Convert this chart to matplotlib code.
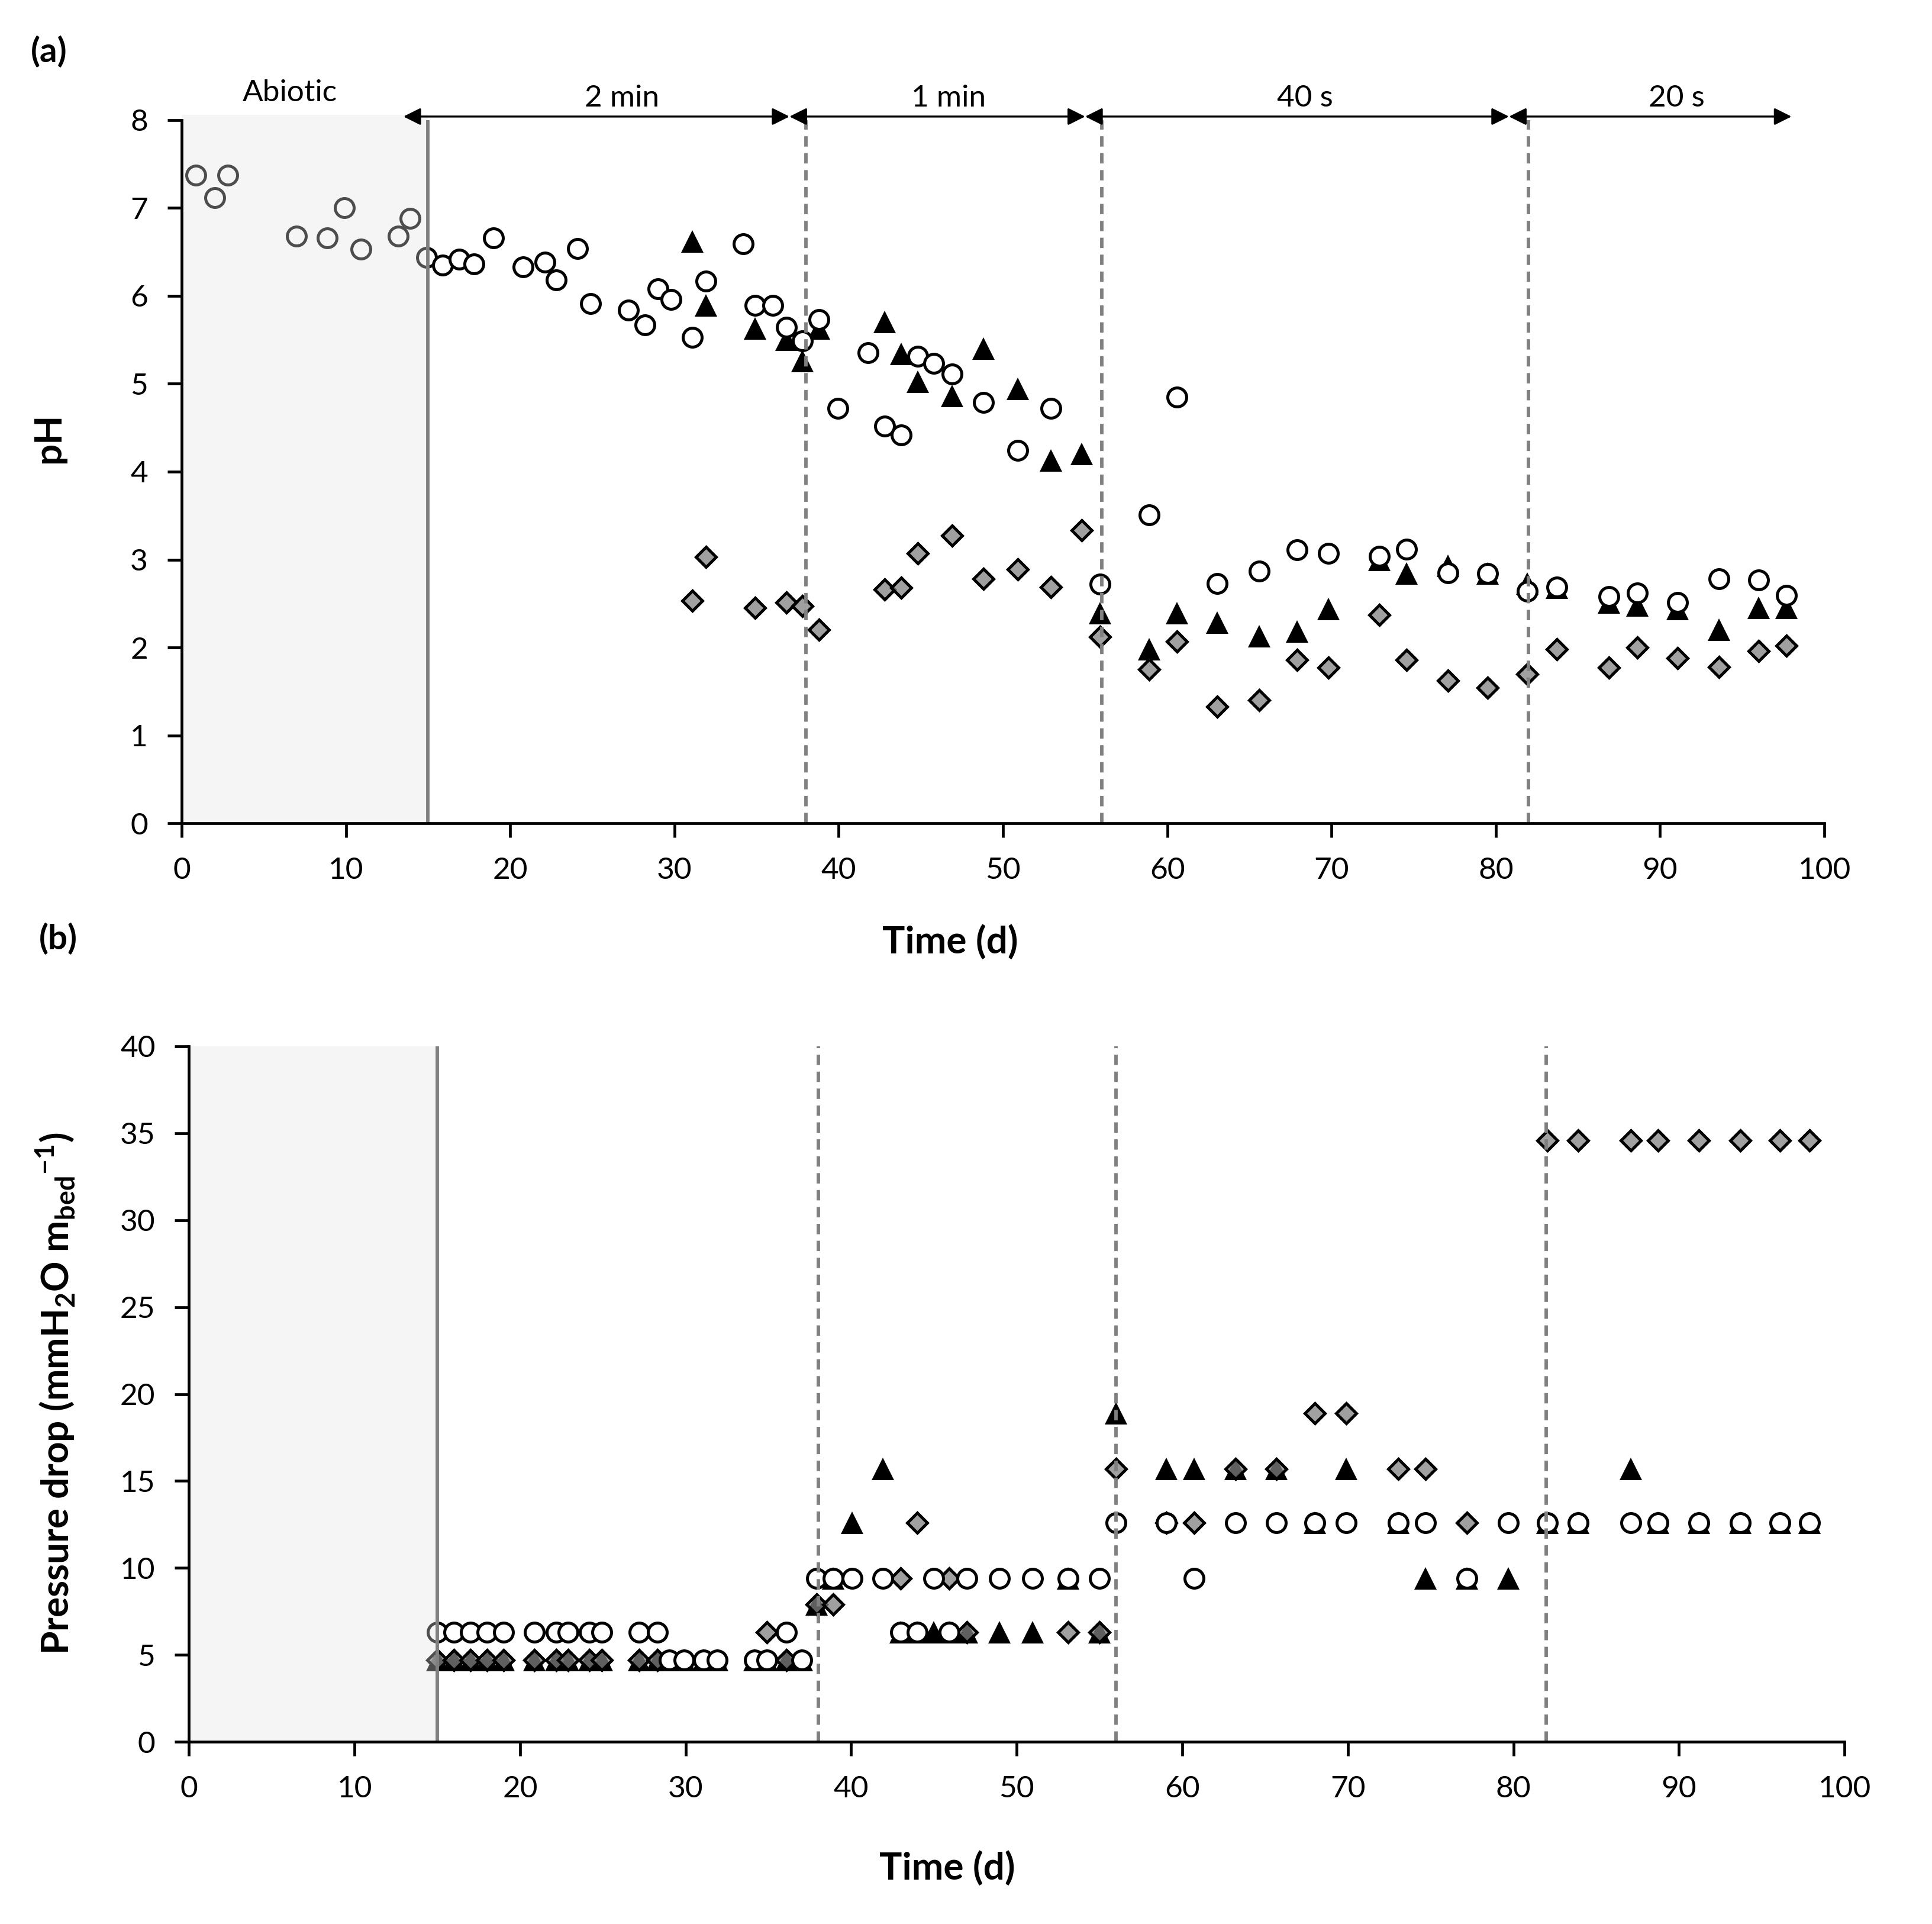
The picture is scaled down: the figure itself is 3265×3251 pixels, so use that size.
import matplotlib

matplotlib.use("Agg")
import matplotlib.pyplot as plt
from matplotlib.patches import Rectangle

plt.rcParams["font.family"] = ["Lato", "DejaVu Sans"]
plt.rcParams["mathtext.fontset"] = "custom"
plt.rcParams["mathtext.rm"] = "Lato:bold"
plt.rcParams["mathtext.bf"] = "Lato:bold"

# %%
# Data
# ------------------------

# (a) pH, open circles
ph_circle_day = [0.87, 2.0, 2.8, 7.0, 8.87, 9.9, 10.9, 13.2, 13.9, 14.9,
                 15.9, 16.9, 17.8, 19.0, 20.8, 22.1, 22.8, 24.1, 24.9, 27.2,
                 28.2, 29.0, 29.8, 31.1, 31.9, 34.2, 34.9, 36.0, 36.8, 37.8,
                 38.8, 39.95, 41.8, 42.8, 43.8, 44.8, 45.8, 46.9, 48.8, 50.9,
                 52.9, 55.9, 58.9, 60.6, 63.05, 65.6, 67.9, 69.8, 72.9, 74.55,
                 77.1, 79.5, 81.9, 83.7, 86.9, 88.6, 91.05, 93.6, 96.0, 97.7]
ph_circle = [7.37, 7.12, 7.37, 6.68, 6.66, 7.0, 6.53, 6.68, 6.88, 6.44,
             6.35, 6.42, 6.36, 6.66, 6.33, 6.38, 6.18, 6.54, 5.91, 5.84,
             5.67, 6.08, 5.96, 5.53, 6.17, 6.59, 5.89, 5.89, 5.64, 5.49,
             5.73, 4.72, 5.35, 4.52, 4.42, 5.31, 5.23, 5.11, 4.79, 4.24,
             4.72, 2.72, 3.51, 4.85, 2.73, 2.87, 3.11, 3.07, 3.04, 3.12,
             2.85, 2.84, 2.64, 2.69, 2.58, 2.62, 2.51, 2.78, 2.77, 2.59]

# (a) pH, filled triangles and grey diamonds (same sampling days)
ph_sec_day = [31.1, 31.9, 34.9, 36.8, 37.8, 38.8, 42.8, 43.8, 44.8, 46.9,
              48.8, 50.9, 52.9, 54.8, 55.9, 58.9, 60.6, 63.05, 65.6, 67.9,
              69.8, 72.9, 74.55, 77.1, 79.5, 81.9, 83.7, 86.9, 88.6, 91.05,
              93.6, 96.0, 97.7]
ph_triangle = [6.62, 5.89, 5.63, 5.50, 5.26, 5.63, 5.70, 5.34, 5.02, 4.86,
               5.40, 4.94, 4.13, 4.20, 2.39, 1.98, 2.39, 2.28, 2.13, 2.18,
               2.44, 3.00, 2.84, 2.93, 2.84, 2.73, 2.68, 2.51, 2.48, 2.44,
               2.20, 2.45, 2.45]
ph_diamond = [2.53, 3.03, 2.45, 2.51, 2.47, 2.20, 2.66, 2.68, 3.07, 3.27,
              2.78, 2.89, 2.69, 3.33, 2.12, 1.75, 2.07, 1.33, 1.40, 1.86,
              1.77, 2.37, 1.86, 1.62, 1.54, 1.70, 1.98, 1.77, 2.00, 1.88,
              1.78, 1.96, 2.02]

# (b) pressure drop, open circles
dp_circle_day = [15.0, 16.0, 17.0, 18.0, 19.0, 20.85, 22.2, 22.9, 24.2, 24.95,
                 27.2, 28.3, 29.0, 29.9, 31.1, 31.9, 34.16, 34.9, 36.1, 37.0,
                 37.9, 38.9, 40.07, 41.92, 43.0, 44.0, 45.0, 45.9, 47.0, 48.96,
                 50.96, 53.1, 55.0, 56.0, 59.05, 60.7, 63.2, 65.7, 68.0, 69.9,
                 73.05, 74.7, 77.2, 79.7, 82.05, 83.9, 87.1, 88.75, 91.2, 93.7,
                 96.1, 97.9]
dp_circle = [6.3, 6.3, 6.3, 6.3, 6.3, 6.3, 6.3, 6.3, 6.3, 6.3,
             6.3, 6.3, 4.7, 4.7, 4.7, 4.7, 4.7, 4.7, 6.3, 4.7,
             9.4, 9.4, 9.4, 9.4, 6.3, 6.3, 9.4, 6.3, 9.4, 9.4,
             9.4, 9.4, 9.4, 12.6, 12.6, 9.4, 12.6, 12.6, 12.6, 12.6,
             12.6, 12.6, 9.4, 12.6, 12.6, 12.6, 12.6, 12.6, 12.6, 12.6,
             12.6, 12.6]

# (b) pressure drop, filled triangles
dp_triangle_day = [15.0, 16.0, 17.0, 18.0, 19.0, 20.85, 22.2, 22.9, 24.2,
                   24.95, 27.2, 28.3, 29.0, 29.9, 31.1, 31.9, 34.16, 34.9,
                   36.1, 37.0, 37.9, 38.9, 40.07, 41.92, 43.0, 44.0, 45.0,
                   45.9, 47.0, 48.96, 50.96, 53.1, 55.0, 56.0, 59.05, 60.7,
                   63.2, 65.7, 68.0, 69.9, 73.05, 74.7, 77.2, 79.7, 82.05,
                   83.9, 87.1, 88.75, 91.2, 93.7, 96.1, 97.9]
dp_triangle = [4.7, 4.7, 4.7, 4.7, 4.7, 4.7, 4.7, 4.7, 4.7,
               4.7, 4.7, 4.7, 4.7, 4.7, 4.7, 4.7, 4.7, 4.7,
               4.7, 4.7, 7.9, 9.4, 12.6, 15.7, 6.3, 6.3, 6.3,
               6.3, 6.3, 6.3, 6.3, 9.4, 6.3, 18.9, 15.7, 15.7,
               15.7, 15.7, 12.6, 15.7, 12.6, 9.4, 9.4, 9.4, 12.6,
               12.6, 15.7, 12.6, 12.6, 12.6, 12.6, 12.6]

# (b) pressure drop, grey diamonds
dp_diamond_day = [15.0, 16.0, 17.0, 18.0, 19.0, 20.85, 22.2, 22.9, 24.2,
                  24.95, 27.2, 28.3, 34.9, 36.1, 37.9, 38.9, 43.0, 44.0,
                  45.9, 47.0, 53.1, 55.0, 56.0, 59.05, 60.7, 63.2, 65.7,
                  68.0, 69.9, 73.05, 74.7, 77.2, 82.05, 83.9, 87.1, 88.75,
                  91.2, 93.7, 96.1, 97.9]
dp_diamond = [4.7, 4.7, 4.7, 4.7, 4.7, 4.7, 4.7, 4.7, 4.7,
              4.7, 4.7, 4.7, 6.3, 4.7, 7.9, 7.9, 9.4, 12.6,
              9.4, 6.3, 6.3, 6.3, 15.7, 12.6, 12.6, 15.7, 15.7,
              18.9, 18.9, 15.7, 15.7, 12.6, 34.6, 34.6, 34.6, 34.6,
              34.6, 34.6, 34.6, 34.6]

# Operating phases (gas contact time) shown above panel (a)
abiotic_end = 15
phase_change_days = [38, 56, 82]
phase_labels = ["2 min", "1 min", "40 s", "20 s"]
phase_arrow_start = [13.5, 37.0, 55.0, 80.8]
phase_arrow_end = [37.0, 55.0, 80.8, 98.0]
phase_label_x = [26.8, 46.7, 68.4, 91.0]

# %%
# Styles
# ------

circle_style = dict(ls="none", marker="o", ms=11.5, mfc="white", mec="black",
                    mew=1.8, zorder=3.2)
triangle_style = dict(ls="none", marker="^", ms=13.5, mfc="black", mec="black",
                      mew=0, zorder=3.0)
diamond_style = dict(ls="none", marker="D", ms=8.8,
                     mfc=(0.5, 0.5, 0.5, 0.75), mec="black", mew=1.8,
                     zorder=3.1)
line_grey = "#808080"
tick_fs = 18.5
label_fs = 23

fig = plt.figure(figsize=(16.33, 16.255), dpi=200)
ax_a = fig.add_axes([0.0940, 0.5721, 0.8500, 0.3655])
ax_b = fig.add_axes([0.0978, 0.0947, 0.8566, 0.3615])


def style_axis(ax, ymax, ystep):
    for side in ["top", "right"]:
        ax.spines[side].set_visible(False)
    for side in ["left", "bottom"]:
        ax.spines[side].set_linewidth(1.7)
        ax.spines[side].set_zorder(6)
    ax.set_xlim(0, 100)
    ax.set_ylim(0, ymax)
    ax.set_xticks(range(0, 101, 10))
    ax.set_yticks(range(0, ymax + 1, ystep))
    ax.tick_params(direction="out", length=8.5, width=1.7,
                   labelsize=tick_fs, pad=12)
    ax.set_xlabel("Time (d)", fontsize=label_fs, fontweight="bold")
    ax.xaxis.label.set_va("center")
    ax.yaxis.label.set_va("center")


def draw_phases(ax, ytop):
    # Abiotic period shaded (drawn over the markers, as in the original)
    ax.add_patch(Rectangle((0, 0), abiotic_end, ytop, facecolor="#e2e2e2",
                           edgecolor="none", alpha=0.34, zorder=3.5,
                           clip_on=False))
    ax.axvline(abiotic_end, color=line_grey, lw=2.1, zorder=4)
    for day in phase_change_days:
        ax.axvline(day, color=line_grey, lw=2.1, ls=(0, (3.0, 1.9)), zorder=4)


# %%
# (a) pH
# ------

style_axis(ax_a, 8, 1)
ax_a.plot(ph_sec_day, ph_triangle, **triangle_style)
ax_a.plot(ph_sec_day, ph_diamond, **diamond_style)
ax_a.plot(ph_circle_day, ph_circle, **circle_style)
draw_phases(ax_a, 8.06)
ax_a.set_ylabel("pH", fontsize=label_fs, fontweight="bold")
ax_a.yaxis.set_label_coords(-0.081, 0.548)
ax_a.xaxis.set_label_coords(0.468, -0.168)

# Phase arrows and labels
arrow_y = 8.04
for x0, x1 in zip(phase_arrow_start, phase_arrow_end):
    ax_a.annotate("", xy=(x1, arrow_y), xytext=(x0, arrow_y),
                  arrowprops=dict(arrowstyle="<|-|>", color="black", lw=1.2,
                                  mutation_scale=22, shrinkA=0, shrinkB=0),
                  annotation_clip=False, zorder=5)
for label, x in zip(phase_labels, phase_label_x):
    ax_a.text(x, 8.156, label, ha="center", va="baseline", fontsize=tick_fs,
              clip_on=False)
ax_a.text(6.6, 8.217, "Abiotic", ha="center", va="baseline",
          fontsize=tick_fs, clip_on=False)

# %%
# (b) Pressure drop
# -----------------

style_axis(ax_b, 40, 5)
ax_b.plot(dp_triangle_day, dp_triangle, **triangle_style)
ax_b.plot(dp_diamond_day, dp_diamond, **diamond_style)
ax_b.plot(dp_circle_day, dp_circle, **circle_style)
draw_phases(ax_b, 40)
ax_b.set_ylabel(r"Pressure drop (mmH$_{\mathrm{2}}$O m$_{\mathrm{bed}}$"
                r"$^{\mathrm{-1}}$)", fontsize=label_fs, fontweight="bold")
ax_b.yaxis.set_label_coords(-0.0806, 0.501)
ax_b.xaxis.set_label_coords(0.458, -0.181)

fig.text(0.0254, 0.973, "(a)", fontsize=21, fontweight="bold",
         ha="center", va="center")
fig.text(0.030, 0.512, "(b)", fontsize=21, fontweight="bold",
         ha="center", va="center")

fig.savefig("out.png", dpi=200, facecolor="white")
